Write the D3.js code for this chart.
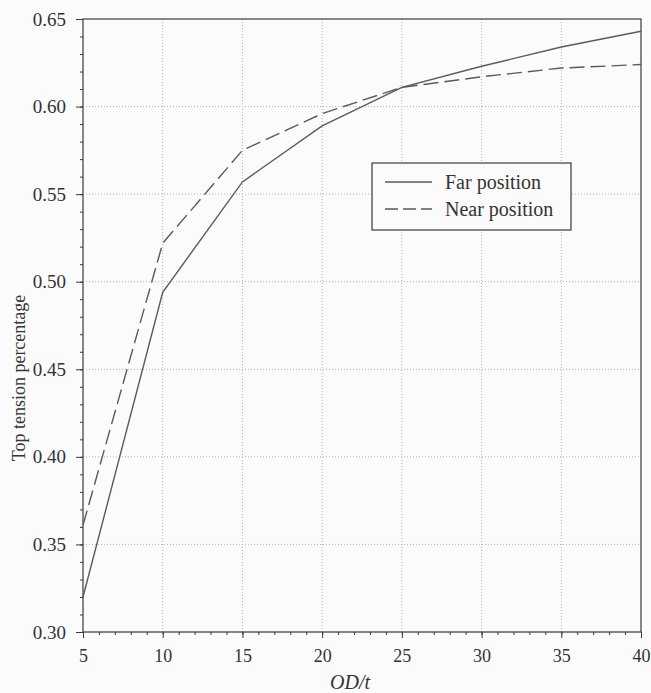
<!DOCTYPE html>
<html>
<head>
<meta charset="utf-8">
<script src="https://cdn.jsdelivr.net/npm/d3@7"></script>
<style>
  html, body { margin: 0; padding: 0; background: #fbfbfb; }
  svg { display: block; }
  svg text { font-family: 'Liberation Serif', 'Times New Roman', Times, 'DejaVu Serif', serif !important; fill: #333; }
</style>
</head>
<body>
<svg id="chart" width="651" height="693"></svg>
<script>
// OD/t ratio on the x axis
const odt = [5, 10, 15, 20, 25, 30, 35, 40];
// Top tension percentage per position
const farPosition  = [0.320, 0.494, 0.557, 0.589, 0.611, 0.623, 0.634, 0.643];
const nearPosition = [0.361, 0.522, 0.575, 0.596, 0.611, 0.617, 0.622, 0.624];
const xTicks = [5, 10, 15, 20, 25, 30, 35, 40];
const yTicks = [0.30, 0.35, 0.40, 0.45, 0.50, 0.55, 0.60, 0.65];
const seriesNames = ["Far position", "Near position"];

const svg = d3.select("#chart");
const plotLeft = 83, plotRight = 641, plotTop = 19, plotBottom = 632;
const ink = "#3a3a3a", lineInk = "#5a5a5a", dash = "15,6";

const x = d3.scaleLinear().domain([5, 40]).range([plotLeft, plotRight]);
const y = d3.scaleLinear().domain([0.30, 0.65]).range([plotBottom, plotTop]);

// dotted grid at the major ticks
const grid = svg.append("g");
grid.selectAll("line.gx").data(xTicks.slice(1, -1)).join("line")
  .attr("x1", d => x(d)).attr("x2", d => x(d))
  .attr("y1", plotTop).attr("y2", plotBottom)
  .attr("stroke", "#b0b0b0").attr("stroke-width", 1).attr("stroke-dasharray", "1,2");
grid.selectAll("line.gy").data(yTicks.slice(1, -1)).join("line")
  .attr("x1", plotLeft).attr("x2", plotRight)
  .attr("y1", d => y(d)).attr("y2", d => y(d))
  .attr("stroke", "#b0b0b0").attr("stroke-width", 1).attr("stroke-dasharray", "1,2");

// minor ticks every 1 on x, every 0.01 on y
const xMinor = d3.range(5, 40.001, 1);
const yMinor = d3.range(0.30, 0.6501, 0.01);
svg.append("g").attr("transform", `translate(0,${plotBottom})`)
  .call(d3.axisBottom(x).tickValues(xMinor).tickSize(3).tickFormat(""))
  .call(g => g.select(".domain").remove())
  .call(g => g.selectAll("line").attr("stroke", ink));
svg.append("g").attr("transform", `translate(${plotLeft},0)`)
  .call(d3.axisLeft(y).tickValues(yMinor).tickSize(3).tickFormat(""))
  .call(g => g.select(".domain").remove())
  .call(g => g.selectAll("line").attr("stroke", ink));

// major axes with labels
const xAxis = svg.append("g").attr("transform", `translate(0,${plotBottom})`)
  .attr("font-family", null)
  .call(d3.axisBottom(x).tickValues(xTicks).tickSize(6).tickPadding(11).tickFormat(d3.format("d")));
xAxis.select(".domain").remove();
xAxis.selectAll("line").attr("stroke", ink);
xAxis.selectAll("text").attr("font-size", 18).attr("fill", "#333");

const yAxis = svg.append("g").attr("transform", `translate(${plotLeft},0)`)
  .call(d3.axisLeft(y).tickValues(yTicks).tickSize(7).tickPadding(10).tickFormat(d3.format(".2f")));
yAxis.select(".domain").remove();
yAxis.selectAll("line").attr("stroke", ink);
yAxis.selectAll("text").attr("font-size", 19).attr("fill", "#333");

// plot frame
svg.append("rect").attr("x", plotLeft).attr("y", plotTop)
  .attr("width", plotRight - plotLeft).attr("height", plotBottom - plotTop)
  .attr("fill", "none").attr("stroke", ink).attr("stroke-width", 1.2);

// series
const line = d3.line().x((d, i) => x(odt[i])).y(d => y(d));
svg.append("path").datum(farPosition).attr("d", line)
  .attr("fill", "none").attr("stroke", lineInk).attr("stroke-width", 1.4);
svg.append("path").datum(nearPosition).attr("d", line)
  .attr("fill", "none").attr("stroke", lineInk).attr("stroke-width", 1.4)
  .attr("stroke-dasharray", dash);

// legend
const lg = svg.append("g");
lg.append("rect").attr("x", 372).attr("y", 163).attr("width", 199).attr("height", 67)
  .attr("fill", "#fbfbfb").attr("stroke", ink).attr("stroke-width", 1.2);
const dashes = [null, "13,5"];
seriesNames.forEach((name, i) => {
  const ly = 182 + i * 27;
  lg.append("line").attr("x1", 385).attr("x2", 432).attr("y1", ly).attr("y2", ly)
    .attr("stroke", lineInk).attr("stroke-width", 1.4)
    .attr("stroke-dasharray", dashes[i]);
  lg.append("text").attr("x", 445).attr("y", ly + 7).attr("font-size", 20).text(name);
});

// axis titles
svg.append("text").attr("x", 350).attr("y", 689).attr("text-anchor", "middle")
  .attr("font-size", 20).attr("font-style", "italic").text("OD/t");
svg.append("text").attr("transform", "translate(25,378) rotate(-90)")
  .attr("text-anchor", "middle").attr("font-size", 18).text("Top tension percentage");
</script>
</body>
</html>
